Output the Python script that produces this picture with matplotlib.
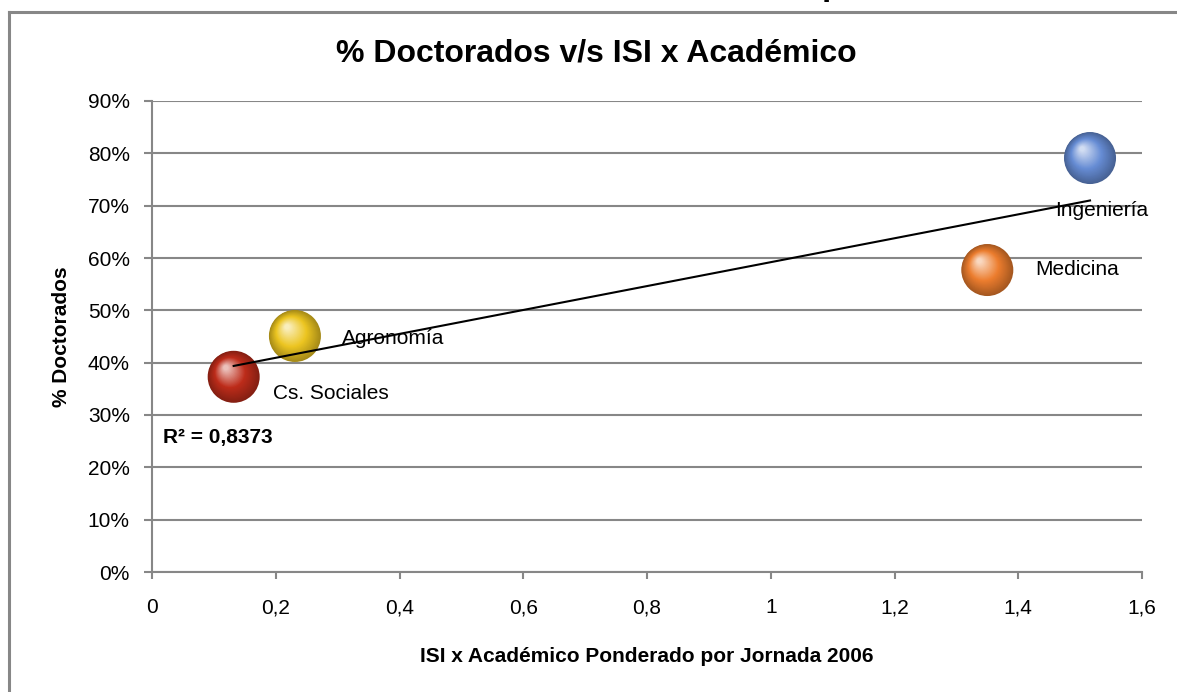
import numpy as np
import matplotlib
matplotlib.use("Agg")
import matplotlib.pyplot as plt
from matplotlib.transforms import offset_copy
from matplotlib.colors import to_rgb

plt.rcParams['font.family'] = ['Liberation Sans', 'DejaVu Sans']

# data
facultades = ['Ingeniería', 'Medicina', 'Agronomía', 'Cs. Sociales']
isi_academico = [1.516, 1.35, 0.231, 0.132]
pct_doctorados = [0.791, 0.577, 0.451, 0.373]
colores = ['#668cd4', '#ec7d2e', '#ecc521', '#bd2c1a']
r2_texto = 'R² = 0,8373'

x_ticks = [0, 0.2, 0.4, 0.6, 0.8, 1.0, 1.2, 1.4, 1.6]
x_tick_labels = ['0', '0,2', '0,4', '0,6', '0,8', '1', '1,2', '1,4', '1,6']
y_ticks = [0, 0.1, 0.2, 0.3, 0.4, 0.5, 0.6, 0.7, 0.8, 0.9]
y_tick_labels = ['0%', '10%', '20%', '30%', '40%', '50%', '60%', '70%', '80%', '90%']

W, H = 1177, 692
fig = plt.figure(figsize=(W / 100, H / 100), dpi=100)
ax = fig.add_axes([152 / W, 1 - 572 / H, (1142 - 152) / W, (572 - 101) / H])

gris = '#878787'


def mezcla(c1, c2, t):
    a = np.array(to_rgb(c1))
    b = np.array(to_rgb(c2))
    return tuple(a + (b - a) * t)


# spheres: stacked circles shifted toward the upper-left highlight
radio = 26 * 0.72  # points
for x, y, c in zip(isi_academico, pct_doctorados, colores):
    oscuro = mezcla(c, 'black', 0.3)
    for t in np.linspace(0, 1, 30):
        r = radio * (1 - 0.9 * t)
        if t < 0.45:
            col = mezcla(oscuro, c, t / 0.45)
        else:
            col = mezcla(c, 'white', (t - 0.45) / 0.55 * 0.7)
        tr = offset_copy(ax.transData, fig=fig, x=-0.3 * radio * t,
                         y=0.35 * radio * t, units='points')
        ax.scatter([x], [y], s=(2 * r) ** 2, color=col, edgecolors='none',
                   transform=tr, zorder=3)

# linear trendline
coef = np.polyfit(isi_academico, pct_doctorados, 1)
xs = np.array([min(isi_academico), max(isi_academico)])
ax.plot(xs, np.polyval(coef, xs), color='black', lw=1.5, zorder=4)

# point labels
ax.text(1.459, 0.690, 'Ingeniería', fontsize=15, va='center', zorder=5)
ax.text(1.427, 0.578, 'Medicina', fontsize=15, va='center', zorder=5)
ax.text(0.307, 0.447, 'Agronomía', fontsize=15, va='center', zorder=5)
ax.text(0.196, 0.342, 'Cs. Sociales', fontsize=15, va='center', zorder=5)
ax.text(0.018, 0.257, r2_texto, fontsize=15, fontweight='bold', va='center', zorder=5)

ax.set_xlim(0, 1.6)
ax.set_ylim(0, 0.9)
ax.set_xticks(x_ticks)
ax.set_xticklabels(x_tick_labels, fontsize=15)
ax.set_yticks(y_ticks)
ax.set_yticklabels(y_tick_labels, fontsize=15)
ax.grid(axis='y', color=gris, lw=1.5)
ax.set_axisbelow(True)
for s in ['top', 'right']:
    ax.spines[s].set_visible(False)
for s in ['left', 'bottom']:
    ax.spines[s].set_color(gris)
    ax.spines[s].set_linewidth(1.5)
ax.tick_params(axis='y', length=6, width=1.5, color=gris, pad=10)
ax.tick_params(axis='x', length=5, width=1.5, color=gris, pad=14)

ax.set_xlabel('ISI x Académico Ponderado por Jornada 2006', fontsize=15,
              fontweight='bold', labelpad=21)
ax.set_ylabel('% Doctorados', fontsize=15, fontweight='bold', labelpad=12)

fig.text(596 / W, 1 - 53 / H, '% Doctorados v/s ISI x Académico', fontsize=23,
         fontweight='bold', ha='center', va='center')

# outer chart frame (left and top edges visible)
fig.add_artist(plt.Line2D([9 / W, 9 / W], [0, 1 - 12 / H], color=gris, lw=2.2,
                          transform=fig.transFigure))
fig.add_artist(plt.Line2D([9 / W, 1], [1 - 12 / H, 1 - 12 / H], color=gris, lw=2.2,
                          transform=fig.transFigure))
# cut-off heading above the frame (only its descender shows)
fig.text(822 / W, 1 + 5 / H, 'p', fontsize=24, fontweight='bold', va='baseline')

fig.savefig('out.png', dpi=100)
